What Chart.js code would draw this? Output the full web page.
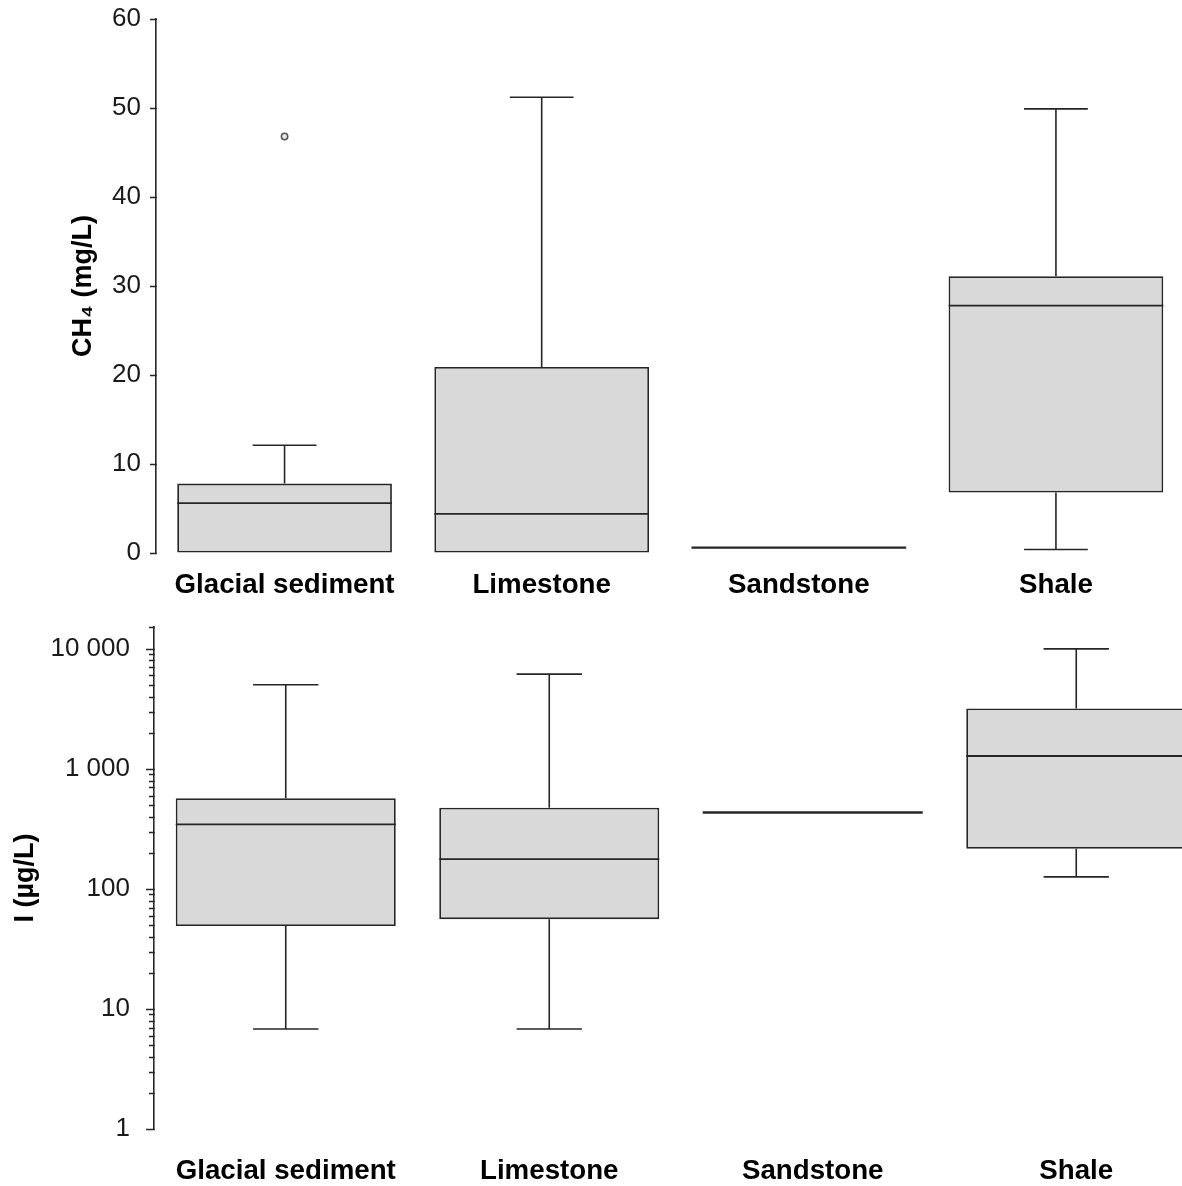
<!DOCTYPE html>
<html>
<head>
<meta charset="utf-8">
<script src="https://cdn.jsdelivr.net/npm/chart.js@4.4.0/dist/chart.umd.min.js"></script>
<style>
  html, body { margin: 0; padding: 0; background: #fff; overflow: hidden; }
  #ch4Chart { position: absolute; left: 0; top: 0; }
  #iodineChart { position: absolute; left: 0; top: 600px; }
</style>
</head>
<body>
<canvas id="ch4Chart" width="1190" height="600"></canvas>
<canvas id="iodineChart" width="1208" height="586"></canvas>
<script>
  const categories = ['Glacial sediment', 'Limestone', 'Sandstone', 'Shale'];

  // CH4 (mg/L) box plot stats
  const ch4Min = [0, 0, 0.6, 0.4];
  const ch4Q1 = [0, 0, 0.6, 6.8];
  const ch4Median = [5.6, 4.4, 0.6, 27.8];
  const ch4Q3 = [7.8, 20.9, 0.6, 31.1];
  const ch4Max = [12.1, 51.2, 0.6, 49.9];
  const ch4Outliers = [46.8, null, null, null];
  const ch4Ticks = [0, 10, 20, 30, 40, 50, 60];

  // I (µg/L) box plot stats
  const iMin = [6.8, 6.8, 433, 126];
  const iQ1 = [49, 56, 433, 216];
  const iMedian = [345, 177, 433, 1280];
  const iQ3 = [570, 475, 433, 3180];
  const iMax = [5020, 6150, 433, 10000];
  const iTicks = [1, 10, 100, 1000, 10000];

  const FONT = "'Liberation Sans', Arial, sans-serif";
  const LINE = '#262626';

  function fmtThousands(v) {
    return String(v).replace(/\B(?=(\d{3})+(?!\d))/g, ' ');
  }

  // whiskers, caps and median lines drawn through the chart scales
  function boxPlugin(stats) {
    return {
      id: 'boxWhiskers',
      afterDatasetsDraw(chart) {
        const ctx = chart.ctx;
        const xs = chart.scales.x, ys = chart.scales.y;
        const bars = chart.getDatasetMeta(0).data;
        const cap = xs.width / categories.length * 0.124;
        ctx.save();
        ctx.strokeStyle = LINE;
        categories.forEach((c, i) => {
          const cx = xs.getPixelForValue(i);
          const half = bars[i].width / 2;
          ctx.lineWidth = 1.6;
          ctx.beginPath();
          if (stats.max[i] > stats.q3[i]) {
            const yHi = ys.getPixelForValue(stats.max[i]);
            ctx.moveTo(cx, ys.getPixelForValue(stats.q3[i]));
            ctx.lineTo(cx, yHi);
            ctx.moveTo(cx - cap, yHi);
            ctx.lineTo(cx + cap, yHi);
          }
          if (stats.min[i] < stats.q1[i]) {
            const yLo = ys.getPixelForValue(stats.min[i]);
            ctx.moveTo(cx, ys.getPixelForValue(stats.q1[i]));
            ctx.lineTo(cx, yLo);
            ctx.moveTo(cx - cap, yLo);
            ctx.lineTo(cx + cap, yLo);
          }
          ctx.stroke();
          const yMed = ys.getPixelForValue(stats.median[i]);
          ctx.lineWidth = stats.q1[i] === stats.q3[i] ? 2.4 : 1.8;
          ctx.beginPath();
          ctx.moveTo(cx - half, yMed);
          ctx.lineTo(cx + half, yMed);
          ctx.stroke();
        });
        ctx.restore();
      }
    };
  }

  // outward y tick marks, long for labelled ticks and short for the rest
  function tickPlugin(labelled, majorLen, minorLen) {
    return {
      id: 'yTickMarks',
      afterDraw(chart) {
        const ctx = chart.ctx;
        const ys = chart.scales.y;
        const x0 = ys.right;
        ctx.save();
        ctx.strokeStyle = LINE;
        ctx.lineWidth = 1.5;
        ctx.beginPath();
        ys.ticks.forEach(t => {
          const py = Math.round(ys.getPixelForValue(t.value)) + 0.5;
          const len = labelled.includes(t.value) ? majorLen : minorLen;
          ctx.moveTo(x0 - len, py);
          ctx.lineTo(x0 + 0.75, py);
        });
        ctx.stroke();
        ctx.restore();
      }
    };
  }

  function boxChart(canvasId, stats, yScale, opts) {
    const datasets = [{
      type: 'bar',
      data: categories.map((c, i) => [stats.q1[i], stats.q3[i]]),
      backgroundColor: '#d9d9d9',
      borderColor: LINE,
      borderWidth: ctx => stats.q1[ctx.dataIndex] === stats.q3[ctx.dataIndex] ? 0 : 1.8,
      borderSkipped: false,
      barPercentage: 0.835,
      categoryPercentage: 1
    }];
    if (stats.outliers) {
      datasets.push({
        type: 'line',
        data: stats.outliers,
        showLine: false,
        pointRadius: 3.2,
        pointBorderWidth: 1.5,
        pointBorderColor: '#555',
        pointBackgroundColor: '#e6e6e6'
      });
    }
    return new Chart(document.getElementById(canvasId), {
      data: { labels: categories, datasets },
      options: {
        responsive: false,
        animation: false,
        layout: { padding: { top: opts.padTop, right: 0, left: 0, bottom: 0 } },
        plugins: { legend: { display: false }, tooltip: { enabled: false } },
        scales: {
          x: {
            offset: true,
            grid: { display: false, drawTicks: false },
            border: { display: false },
            ticks: {
              color: '#000',
              padding: opts.xPad,
              font: { family: FONT, size: 27.7, weight: 'bold' }
            },
            afterFit: s => {
              s.height = opts.xHeight;
              s.paddingLeft = 0;
              s.paddingRight = 0;
            }
          },
          y: Object.assign({
            border: { display: true, color: LINE, width: 1.6 },
            grid: { display: true, drawOnChartArea: false, drawTicks: false },
            title: {
              display: true,
              text: opts.title,
              color: '#000',
              padding: { top: opts.titlePad, bottom: 0 },
              font: { family: FONT, size: 27, weight: 'bold' }
            },
            afterFit: s => {
              s.width = opts.yWidth;
              s.paddingTop = 0;
              s.paddingBottom = 0;
            }
          }, yScale)
        }
      },
      plugins: [boxPlugin(stats), tickPlugin(opts.labelled, opts.majorLen, opts.minorLen)]
    });
  }

  boxChart('ch4Chart', {
    min: ch4Min, q1: ch4Q1, median: ch4Median, q3: ch4Q3, max: ch4Max, outliers: ch4Outliers
  }, {
    type: 'linear',
    min: 0,
    max: 60,
    ticks: {
      stepSize: 10,
      padding: 15,
      color: '#1a1a1a',
      font: { family: FONT, size: 26 }
    }
  }, {
    padTop: 19, xHeight: 47, yWidth: 156, xPad: 16, titlePad: 67,
    title: 'CH\u2084 (mg/L)', labelled: ch4Ticks, majorLen: 6, minorLen: 6
  });

  boxChart('iodineChart', {
    min: iMin, q1: iQ1, median: iMedian, q3: iQ3, max: iMax
  }, {
    type: 'logarithmic',
    min: 1,
    max: 15200,
    afterBuildTicks: s => {
      s.ticks = s.ticks.filter(t => {
        const m = t.value / Math.pow(10, Math.floor(Math.log10(t.value) + 1e-9));
        return Math.abs(m - Math.round(m)) < 1e-6 || t.value === s.max;
      });
    },
    ticks: {
      autoSkip: false,
      padding: 24,
      color: '#1a1a1a',
      font: { family: FONT, size: 26 },
      callback: v => iTicks.includes(v) ? fmtThousands(v) : ''
    }
  }, {
    padTop: 27, xHeight: 57, yWidth: 154, xPad: 25.5, titlePad: 9,
    title: 'I (\u00b5g/L)', labelled: iTicks, majorLen: 8, minorLen: 5
  });
</script>
</body>
</html>
